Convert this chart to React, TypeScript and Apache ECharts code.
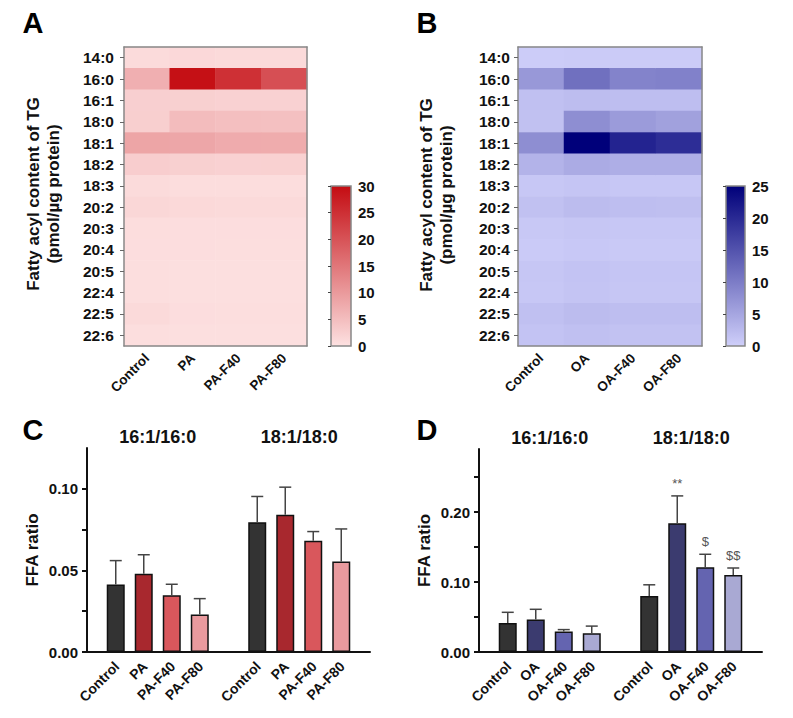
import React, { useEffect, useRef } from 'react';
import * as echarts from 'echarts';

const FONT = '"Liberation Sans", Arial, Helvetica, sans-serif';

// ---------- Heatmap data (pmol/µg protein) ----------
const fattyAcids = ['14:0', '16:0', '16:1', '18:0', '18:1', '18:2', '18:3', '20:2', '20:3', '20:4', '20:5', '22:4', '22:5', '22:6'];
const groupsPA = ['Control', 'PA', 'PA-F40', 'PA-F80'];
const groupsOA = ['Control', 'OA', 'OA-F40', 'OA-F80'];

const tgPA_Control = [0.8, 7.0, 2.5, 2.6, 8.5, 2.8, 0.9, 1.4, 0.6, 0.5, 0.4, 0.4, 1.0, 0.4];
const tgPA_PA = [1.2, 29.5, 2.4, 5.2, 8.3, 2.4, 0.6, 1.1, 0.5, 0.5, 0.3, 0.3, 0.5, 0.3];
const tgPA_F40 = [1.0, 25.0, 2.2, 4.8, 7.6, 2.2, 0.6, 1.0, 0.5, 0.4, 0.3, 0.3, 0.4, 0.3];
const tgPA_F80 = [1.0, 20.5, 2.2, 4.6, 7.5, 2.3, 0.6, 1.0, 0.5, 0.4, 0.3, 0.3, 0.4, 0.3];

const tgOA_Control = [0.4, 6.6, 1.8, 1.7, 7.8, 3.4, 1.0, 1.7, 0.9, 0.6, 1.1, 1.0, 1.8, 1.4];
const tgOA_OA = [0.5, 11.5, 2.2, 7.8, 25.0, 4.3, 1.2, 2.3, 1.1, 0.8, 1.4, 1.3, 2.3, 1.8];
const tgOA_F40 = [0.5, 9.2, 2.0, 6.3, 20.8, 4.0, 1.0, 2.0, 1.0, 0.7, 1.2, 1.1, 2.0, 1.6];
const tgOA_F80 = [0.5, 9.4, 2.0, 5.6, 19.6, 4.0, 1.0, 1.9, 1.0, 0.7, 1.2, 1.1, 2.0, 1.6];

const scaleMaxPA = 30;
const scaleMaxOA = 25;

// ---------- Bar data (FFA ratio, mean and SD) ----------
const ratios = ['16:1/16:0', '18:1/18:0'];

const ratioC_Control = [0.0413, 0.0795];
const sdC_Control = [0.0147, 0.0158];
const ratioC_PA = [0.048, 0.0841];
const sdC_PA = [0.0116, 0.0169];
const ratioC_F40 = [0.0348, 0.0681];
const sdC_F40 = [0.0067, 0.0057];
const ratioC_F80 = [0.023, 0.0555];
const sdC_F80 = [0.0097, 0.0199];

const ratioD_Control = [0.0413, 0.0801];
const sdD_Control = [0.0154, 0.0159];
const ratioD_OA = [0.0466, 0.184];
const sdD_OA = [0.0144, 0.039];
const ratioD_F40 = [0.0293, 0.121];
const sdD_F40 = [0.0027, 0.0186];
const ratioD_F80 = [0.0269, 0.11];
const sdD_F80 = [0.0101, 0.01];

const annotD_Control = ['', ''];
const annotD_OA = ['', '**'];
const annotD_F40 = ['', '$'];
const annotD_F80 = ['', '$$'];

// ---------- Styles ----------
const RED_LIGHT = '#fde1e1';
const RED_DARK = '#c40c12';
const BLUE_LIGHT = '#cfcffa';
const BLUE_DARK = '#00007a';
const colorsC = ['#333333', '#a8282e', '#d9575c', '#e99a9e'];
const colorsD = ['#333333', '#3b3b6f', '#6464b0', '#a9a9d3'];
const BAR_W = 18;
const BAR_STEP = 28;

function heatData(cols: number[][]) {
  const out: number[][] = [];
  cols.forEach((col, x) => col.forEach((v, y) => out.push([x, y, v])));
  return out;
}

function errData(means: number[][], sds: number[][]) {
  const out: number[][] = [];
  means.forEach((m, k) => m.forEach((v, c) => out.push([c, v, sds[k][c], k])));
  return out;
}

function errAnnots(annots: string[][]) {
  const out: string[] = [];
  annots.forEach((a) => a.forEach((s) => out.push(s)));
  return out;
}

function makeErrRenderer(names: string[], annots: string[]) {
  return (params: any, api: any) => {
    const c = api.value(0);
    const mean = api.value(1);
    const sd = api.value(2);
    const k = api.value(3);
    const dx = (k - 1.5) * BAR_STEP;
    const pTop = api.coord([c, mean + sd]);
    const pMean = api.coord([c, mean]);
    const pBase = api.coord([c, 0]);
    const x = pTop[0] + dx;
    const lineStyle = { stroke: '#444', lineWidth: 1.5 };
    const children: any[] = [
      { type: 'line', shape: { x1: x, y1: pMean[1], x2: x, y2: pTop[1] }, style: lineStyle },
      { type: 'line', shape: { x1: x - 6, y1: pTop[1], x2: x + 6, y2: pTop[1] }, style: lineStyle },
      {
        type: 'text',
        x: x + 1,
        y: pBase[1] + 12,
        rotation: Math.PI / 4,
        style: {
          text: names[k],
          fill: '#111',
          fontSize: 14,
          fontWeight: 'bold',
          fontFamily: FONT,
          align: 'right',
          verticalAlign: 'middle',
        },
      },
    ];
    const note = annots[params.dataIndex];
    if (note) {
      children.push({
        type: 'text',
        x,
        y: pTop[1] - 6,
        style: {
          text: note,
          fill: '#555',
          fontSize: 13,
          fontFamily: FONT,
          align: 'center',
          verticalAlign: 'bottom',
        },
      });
    }
    return { type: 'group', children };
  };
}

const labelStyle = { color: '#111', fontWeight: 'bold' as const, fontFamily: FONT };

function heatX(gridIndex: number, data: string[]) {
  return {
    type: 'category',
    gridIndex,
    data,
    position: 'bottom',
    axisLine: { show: true, lineStyle: { color: '#888', width: 1.5 } },
    axisTick: { show: false },
    axisLabel: { ...labelStyle, rotate: 45, margin: 10, fontSize: 13.5, interval: 0 },
    splitLine: { show: false },
    z: 5,
  };
}
function frameX(gridIndex: number, data: string[]) {
  return {
    type: 'category',
    gridIndex,
    data,
    position: 'top',
    axisLine: { show: true, lineStyle: { color: '#888', width: 1.5 } },
    axisTick: { show: false },
    axisLabel: { show: false },
    splitLine: { show: false },
    z: 5,
  };
}
function heatY(gridIndex: number, margin: number) {
  return {
    type: 'category',
    gridIndex,
    data: fattyAcids,
    inverse: true,
    position: 'left',
    axisLine: { show: true, lineStyle: { color: '#888', width: 1.5 } },
    axisTick: { show: true, length: 4, alignWithLabel: true, lineStyle: { color: '#666' } },
    axisLabel: { ...labelStyle, margin, fontSize: 15.5, interval: 0 },
    splitLine: { show: false },
    z: 5,
  };
}
function frameY(gridIndex: number) {
  return {
    type: 'category',
    gridIndex,
    data: fattyAcids,
    inverse: true,
    position: 'right',
    axisLine: { show: true, lineStyle: { color: '#888', width: 1.5 } },
    axisTick: { show: false },
    axisLabel: { show: false },
    splitLine: { show: false },
    z: 5,
  };
}
function cbarY(gridIndex: number, max: number) {
  return {
    type: 'value',
    gridIndex,
    min: 0,
    max,
    interval: 5,
    position: 'right',
    axisLine: { show: false },
    axisTick: { show: true, inside: true, length: 3, lineStyle: { color: '#444' } },
    axisLabel: { ...labelStyle, margin: 7, fontSize: 15 },
    splitLine: { show: false },
    z: 10,
  };
}
function hiddenX(gridIndex: number) {
  return { type: 'value', gridIndex, show: false, min: 0, max: 1 };
}
function barX(gridIndex: number) {
  return {
    type: 'category',
    gridIndex,
    data: ratios,
    position: 'bottom',
    axisLine: { show: true, lineStyle: { color: '#111', width: 2 } },
    axisTick: { show: false },
    axisLabel: { show: false },
    splitLine: { show: false },
  };
}
function titleX(gridIndex: number) {
  return {
    type: 'category',
    gridIndex,
    data: ratios,
    position: 'top',
    axisLine: { show: false },
    axisTick: { show: false },
    axisLabel: { ...labelStyle, fontSize: 18, margin: 2 },
    splitLine: { show: false },
  };
}
function barY(gridIndex: number, max: number, ticks: number[], labels: number[]) {
  return {
    type: 'value',
    gridIndex,
    min: 0,
    max,
    position: 'left',
    axisLine: { show: true, lineStyle: { color: '#111', width: 2 } },
    axisTick: { show: true, length: 5, lineStyle: { color: '#111', width: 2 }, customValues: ticks },
    axisLabel: {
      ...labelStyle,
      fontSize: 15,
      margin: 9,
      customValues: labels,
      formatter: (v: number) => v.toFixed(2),
    },
    splitLine: { show: false },
    name: 'FFA ratio',
    nameLocation: 'middle',
    nameRotate: 90,
    nameGap: 46,
    nameTextStyle: { ...labelStyle, fontSize: 17 },
  };
}

function barSeries(name: string, data: number[], color: string, xAxisIndex: number, yAxisIndex: number) {
  return {
    type: 'bar',
    name,
    xAxisIndex,
    yAxisIndex,
    data,
    barWidth: BAR_W,
    barGap: ((BAR_STEP - BAR_W) / BAR_W * 100).toFixed(1) + '%',
    itemStyle: { color, borderColor: '#111', borderWidth: 1.5 },
    silent: true,
  };
}

function buildOption() {
  const cMeans = [ratioC_Control, ratioC_PA, ratioC_F40, ratioC_F80];
  const cSds = [sdC_Control, sdC_PA, sdC_F40, sdC_F80];
  const dMeans = [ratioD_Control, ratioD_OA, ratioD_F40, ratioD_F80];
  const dSds = [sdD_Control, sdD_OA, sdD_F40, sdD_F80];
  const cAnnots = errAnnots([['', ''], ['', ''], ['', ''], ['', '']]);
  const dAnnots = errAnnots([annotD_Control, annotD_OA, annotD_F40, annotD_F80]);

  const titleText = 'Fatty acyl content of TG\n(pmol/µg protein)';
  const titleStyle = {
    text: titleText,
    fill: '#111',
    fontSize: 17,
    fontWeight: 'bold',
    fontFamily: FONT,
    lineHeight: 20,
    align: 'center',
    verticalAlign: 'middle',
    textAlign: 'center',
    textVerticalAlign: 'middle',
  };
  const letter = (t: string, x: number, y: number) => ({
    type: 'text',
    x,
    y,
    style: {
      text: t,
      fill: '#000',
      fontSize: 29,
      fontWeight: 'bold',
      fontFamily: FONT,
      align: 'center',
      verticalAlign: 'middle',
      textAlign: 'center',
      textVerticalAlign: 'middle',
    },
  });

  return {
    animation: false,
    backgroundColor: '#ffffff',
    textStyle: { fontFamily: FONT },
    grid: [
      { left: 124, top: 47, width: 183, height: 299 },
      { left: 518, top: 47, width: 184, height: 299 },
      { left: 331, top: 186, width: 20, height: 160 },
      { left: 726, top: 186, width: 19, height: 160 },
      { left: 87, top: 448, width: 283, height: 204 },
      { left: 479, top: 449, width: 283, height: 203 },
    ],
    xAxis: [
      heatX(0, groupsPA), // 0
      frameX(0, groupsPA), // 1
      heatX(1, groupsOA), // 2
      frameX(1, groupsOA), // 3
      hiddenX(2), // 4
      hiddenX(3), // 5
      barX(4), // 6
      titleX(4), // 7
      barX(5), // 8
      titleX(5), // 9
    ],
    yAxis: [
      heatY(0, 10), // 0
      frameY(0), // 1
      heatY(1, 8), // 2
      frameY(1), // 3
      cbarY(2, scaleMaxPA), // 4
      cbarY(3, scaleMaxOA), // 5
      barY(4, 0.125, [0, 0.025, 0.05, 0.075, 0.1], [0, 0.05, 0.1]), // 6
      barY(5, 0.29, [0, 0.05, 0.1, 0.15, 0.2, 0.25], [0, 0.1, 0.2]), // 7
    ],
    visualMap: [
      { type: 'continuous', show: false, seriesIndex: 0, min: 0, max: scaleMaxPA, inRange: { color: [RED_LIGHT, RED_DARK] } },
      { type: 'continuous', show: false, seriesIndex: 1, min: 0, max: scaleMaxOA, inRange: { color: [BLUE_LIGHT, BLUE_DARK] } },
    ],
    graphic: [
      letter('A', 33, 22.5),
      letter('B', 427, 22.5),
      letter('C', 33, 430),
      letter('D', 427, 430),
      { type: 'text', x: 43.5, y: 194, rotation: Math.PI / 2, style: titleStyle },
      { type: 'text', x: 436.5, y: 195, rotation: Math.PI / 2, style: titleStyle },
      {
        type: 'rect',
        z: 1,
        shape: { x: 331, y: 186, width: 20, height: 160 },
        style: {
          fill: new echarts.graphic.LinearGradient(0, 0, 0, 1, [
            { offset: 0, color: RED_DARK },
            { offset: 1, color: RED_LIGHT },
          ]),
          stroke: '#888',
          lineWidth: 1.5,
        },
      },
      {
        type: 'rect',
        z: 1,
        shape: { x: 726, y: 186, width: 19, height: 160 },
        style: {
          fill: new echarts.graphic.LinearGradient(0, 0, 0, 1, [
            { offset: 0, color: BLUE_DARK },
            { offset: 1, color: BLUE_LIGHT },
          ]),
          stroke: '#888',
          lineWidth: 1.5,
        },
      },
    ],
    series: [
      {
        type: 'heatmap',
        xAxisIndex: 0,
        yAxisIndex: 0,
        data: heatData([tgPA_Control, tgPA_PA, tgPA_F40, tgPA_F80]),
        silent: true,
      },
      {
        type: 'heatmap',
        xAxisIndex: 2,
        yAxisIndex: 2,
        data: heatData([tgOA_Control, tgOA_OA, tgOA_F40, tgOA_F80]),
        silent: true,
      },
      barSeries('Control', ratioC_Control, colorsC[0], 6, 6),
      barSeries('PA', ratioC_PA, colorsC[1], 6, 6),
      barSeries('PA-F40', ratioC_F40, colorsC[2], 6, 6),
      barSeries('PA-F80', ratioC_F80, colorsC[3], 6, 6),
      {
        type: 'custom',
        xAxisIndex: 6,
        yAxisIndex: 6,
        data: errData(cMeans, cSds),
        renderItem: makeErrRenderer(groupsPA, cAnnots),
        clip: false,
        silent: true,
        z: 3,
      },
      barSeries('Control', ratioD_Control, colorsD[0], 8, 7),
      barSeries('OA', ratioD_OA, colorsD[1], 8, 7),
      barSeries('OA-F40', ratioD_F40, colorsD[2], 8, 7),
      barSeries('OA-F80', ratioD_F80, colorsD[3], 8, 7),
      {
        type: 'custom',
        xAxisIndex: 8,
        yAxisIndex: 7,
        data: errData(dMeans, dSds),
        renderItem: makeErrRenderer(groupsOA, dAnnots),
        clip: false,
        silent: true,
        z: 3,
      },
    ],
  };
}

export default function App() {
  const ref = useRef<HTMLDivElement>(null);
  useEffect(() => {
    if (!ref.current) return;
    const chart = echarts.init(ref.current, null, { renderer: 'svg' });
    chart.setOption(buildOption() as any);
    return () => chart.dispose();
  }, []);
  return (
    <div
      ref={ref}
      style={{ position: 'fixed', left: 0, top: 0, width: 793, height: 718, background: '#fff' }}
    />
  );
}
